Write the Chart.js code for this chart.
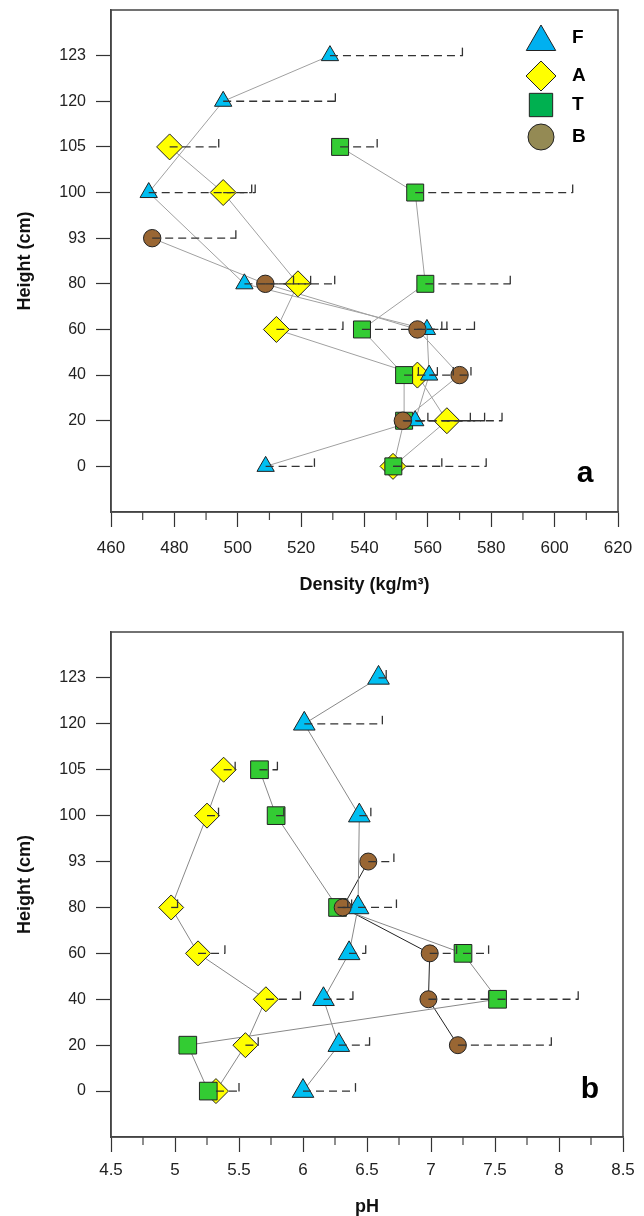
<!DOCTYPE html>
<html>
<head>
<meta charset="utf-8">
<script src="https://cdn.jsdelivr.net/npm/chart.js@4.4.0/dist/chart.umd.min.js"></script>
<style>
  body { margin: 0; background: #fff; }
  canvas { display: block; }
</style>
</head>
<body>
<canvas id="density" width="644" height="608"></canvas>
<canvas id="ph" width="644" height="608"></canvas>
<script>
// sampling heights (cm), plotted as equally spaced categories
const heights = ['0', '20', '40', '60', '80', '93', '100', '105', '120', '123'];
const seriesNames = ['F', 'A', 'T', 'B'];

// panel a - density (kg/m3), one value per height (null = not sampled)
const densF = [508.8, 556.0, 560.4, 559.7, 502.1, null, 471.9, null, 495.4, 529.1];
const densA = [549.0, 566.0, 556.7, 512.2, 519.0, null, 495.4, 478.5, null, null];
const densT = [549.1, 552.5, 552.5, 539.2, 559.2, null, 556.0, 532.3, null, null];
const densB = [null, 552.1, 570.0, 556.7, 508.7, 473.0, null, null, null, null];
// right end of the dashed error bars
const densErrF = [524.2, 577.9, 568.0, 574.7, 517.6, null, 505.5, null, 530.8, 570.9];
const densErrA = [564.4, 583.4, 563.0, 533.2, 530.6, null, 504.4, 494.0, null, null];
const densErrT = [578.4, 560.0, 557.0, 564.4, 586.0, null, 605.7, 544.0, null, null];
const densErrB = [null, 573.4, 573.6, 566.0, 523.0, 499.4, null, null, null, null];

// panel b - pH
const phF = [6.00, 6.28, 6.16, 6.36, 6.43, null, 6.44, null, 6.01, 6.59];
const phA = [5.32, 5.55, 5.71, 5.18, 4.97, null, 5.25, 5.38, null, null];
const phT = [5.26, 5.10, 7.52, 7.25, 6.27, null, 5.79, 5.66, null, null];
const phB = [null, 7.21, 6.98, 6.99, 6.31, 6.51, null, null, null, null];
const phErrF = [6.41, 6.52, 6.39, 6.49, 6.73, null, 6.53, null, 6.62, 6.65];
const phErrA = [5.50, 5.65, 5.98, 5.39, 5.02, null, 5.34, 5.47, null, null];
const phErrT = [null, null, 8.15, 7.45, 6.35, null, 5.85, 5.80, null, null];
const phErrB = [null, 7.94, 7.45, 7.20, 6.38, 6.71, null, null, null, null];

const FONT = "'Liberation Sans', Arial, Helvetica, sans-serif";
const fills = { F: '#00BFF2', A: '#FFFF00', T: '#33CC33', B: '#996633' };
const legendFills = { F: '#00B0F0', A: '#FFFF00', T: '#00B050', B: '#948A54' };
const shapes = { F: 'triangle', A: 'rectRot', T: 'rect', B: 'circle' };
const drawOrder = { B: 1, F: 2, T: 3, A: 4 };

function pts(vals) {
  return vals.map((v, i) => v == null ? null : { x: v, y: i }).filter(p => p);
}

// frame, minor ticks, dashed error bars, panel letter, legend
const extras = {
  id: 'extras',
  afterDatasetsDraw(chart, args, opts) {
    const ctx = chart.ctx, xs = chart.scales.x, ys = chart.scales.y, area = chart.chartArea;
    ctx.save();
    ctx.strokeStyle = '#333';
    ctx.lineWidth = 1.3;
    opts.errors.forEach(([vals, ends]) => {
      vals.forEach((v, i) => {
        if (v == null || ends[i] == null) return;
        const x0 = xs.getPixelForValue(v), x1 = xs.getPixelForValue(ends[i]), py = ys.getPixelForValue(i);
        ctx.setLineDash([8, 5]);
        ctx.beginPath(); ctx.moveTo(x0, py); ctx.lineTo(x1, py); ctx.stroke();
        ctx.setLineDash([]);
        ctx.beginPath(); ctx.moveTo(x1, py + 0.5); ctx.lineTo(x1, py - 8); ctx.stroke();
      });
    });

    ctx.strokeStyle = '#444';
    ctx.lineWidth = 1.5;
    ctx.strokeRect(area.left, area.top, area.right - area.left, area.bottom - area.top);

    ctx.lineWidth = 1.2;
    for (let v = xs.min + opts.minor; v < xs.max; v += opts.minor * 2) {
      const px = xs.getPixelForValue(v);
      ctx.beginPath(); ctx.moveTo(px, area.bottom); ctx.lineTo(px, area.bottom + 8); ctx.stroke();
    }

    ctx.fillStyle = '#000';
    ctx.font = 'bold 30px ' + FONT;
    ctx.textAlign = 'center';
    ctx.textBaseline = 'alphabetic';
    ctx.fillText(opts.letter, area.right - 33, area.bottom - opts.letterLift);

    if (opts.legend) {
      const rows = [28, 66, 95, 127];
      const radii = { F: 17, A: 15, T: 16.5, B: 13 };
      seriesNames.forEach((s, k) => {
        const cy = area.top + rows[k];
        ctx.fillStyle = legendFills[s];
        ctx.strokeStyle = '#222';
        ctx.lineWidth = 1;
        Chart.helpers.drawPoint(ctx, { pointStyle: shapes[s], radius: radii[s], rotation: 0, borderWidth: 1 },
          area.right - 77, cy + (s === 'F' ? 4 : 0));
        ctx.fillStyle = '#000';
        ctx.font = 'bold 19px ' + FONT;
        ctx.textAlign = 'left';
        ctx.textBaseline = 'middle';
        ctx.fillText(s, area.right - 46, cy);
      });
    }
    ctx.restore();
  }
};

function makeChart(id, cfg) {
  const datasets = [];
  seriesNames.forEach(s => {
    datasets.push({
      data: pts(cfg.values[s]), showLine: true, pointRadius: 0,
      borderColor: cfg.lineColors[s], borderWidth: 1, order: 20
    });
    datasets.push({
      data: pts(cfg.values[s]), showLine: false,
      pointStyle: shapes[s], pointRadius: cfg.radii[s],
      backgroundColor: fills[s], borderColor: '#222', borderWidth: 1,
      order: drawOrder[s]
    });
  });
  return new Chart(document.getElementById(id), {
    type: 'scatter',
    data: { datasets: datasets },
    plugins: [extras],
    options: {
      responsive: false,
      animation: false,
      events: [],
      layout: { padding: cfg.padding, autoPadding: false },
      plugins: {
        legend: { display: false },
        tooltip: { enabled: false },
        extras: {
          errors: seriesNames.map(s => [cfg.values[s], cfg.errors[s]]),
          minor: cfg.step / 2,
          letter: cfg.letter,
          letterLift: cfg.letterLift,
          legend: cfg.legend
        }
      },
      scales: {
        x: {
          type: 'linear', min: cfg.min, max: cfg.max,
          afterFit: s => { s.height = cfg.xHeight; },
          ticks: {
            stepSize: cfg.step, autoSkip: false, maxRotation: 0,
            padding: cfg.xPad, color: '#222',
            font: { family: FONT, size: 17 },
            callback: v => String(+v.toFixed(2))
          },
          grid: { drawOnChartArea: false, tickLength: 15, color: '#333', tickWidth: 1.2 },
          border: { color: '#444', width: 1.5 },
          title: {
            display: true, text: cfg.title, color: '#111',
            font: { family: FONT, size: 18, weight: 'bold', lineHeight: cfg.titleLH },
            padding: { top: 0, bottom: cfg.titlePad }
          }
        },
        y: {
          type: 'linear', min: -1, max: 10,
          afterBuildTicks: s => { s.ticks = heights.map((h, i) => ({ value: i })); },
          afterFit: s => { s.width = 111; s.paddingTop = 0; s.paddingBottom = 0; },
          ticks: {
            autoSkip: false, padding: 10, color: '#222',
            font: { family: FONT, size: 16 },
            callback: v => heights[v]
          },
          grid: { drawOnChartArea: false, tickLength: 15, color: '#333', tickWidth: 1.2 },
          border: { color: '#444', width: 1.5 },
          title: {
            display: true, text: 'Height (cm)', color: '#111',
            font: { family: FONT, size: 18, weight: 'bold' },
            padding: { top: 14, bottom: 0 }
          }
        }
      }
    }
  });
}

makeChart('density', {
  values: { F: densF, A: densA, T: densT, B: densB },
  errors: { F: densErrF, A: densErrA, T: densErrT, B: densErrB },
  lineColors: { F: '#a0a0a0', A: '#a0a0a0', T: '#a0a0a0', B: '#a0a0a0' },
  radii: { F: 10, A: 13, T: 12, B: 8.7 },
  min: 460, max: 620, step: 20,
  padding: { top: 10, right: 26, left: 0, bottom: 0 },
  xHeight: 96, xPad: 11,
  title: 'Density (kg/m³)', titleLH: 1.2, titlePad: 12,
  letter: 'a', letterLift: 30, legend: true
});

makeChart('ph', {
  values: { F: phF, A: phA, T: phT, B: phB },
  errors: { F: phErrF, A: phErrA, T: phErrT, B: phErrB },
  lineColors: { F: '#888', A: '#888', T: '#888', B: '#222' },
  radii: { F: 12.5, A: 12.5, T: 12.5, B: 8.5 },
  min: 4.5, max: 8.5, step: 0.5,
  padding: { top: 24, right: 21, left: 0, bottom: 0 },
  xHeight: 79, xPad: 8,
  title: 'pH', titleLH: 1, titlePad: 0,
  letter: 'b', letterLift: 39, legend: false
});
</script>
</body>
</html>
